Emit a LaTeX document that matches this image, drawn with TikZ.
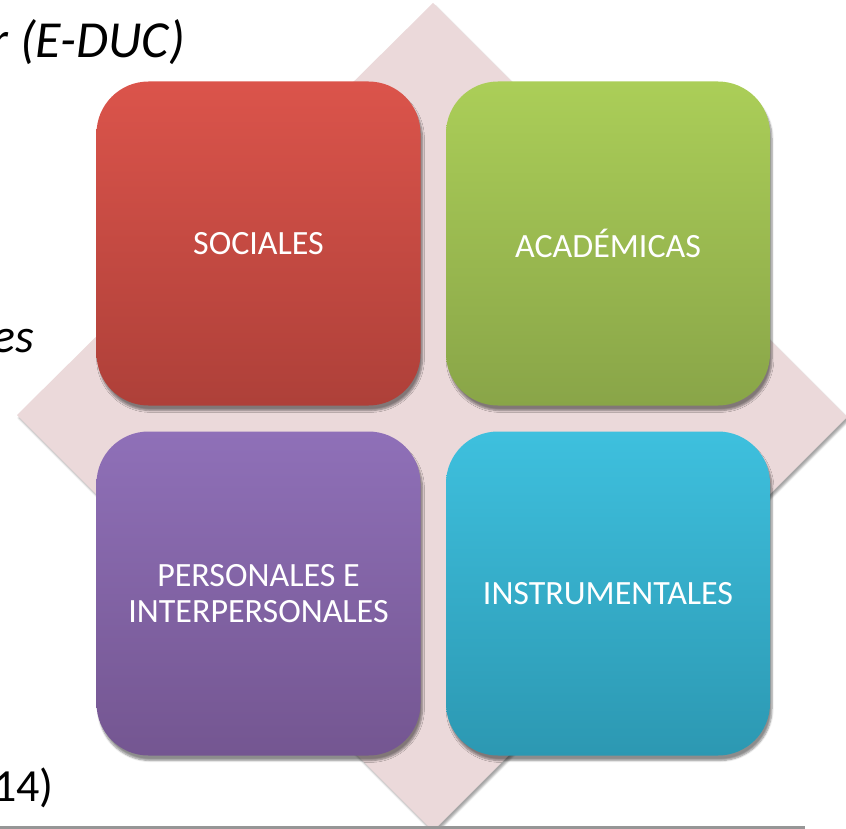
\documentclass[tikz,border=0pt]{standalone}
\usepackage{fontspec}
\setmainfont{Carlito}
\usetikzlibrary{shadows,shadows.blur}
\definecolor{diam}{RGB}{235,217,218}
\definecolor{redT}{RGB}{219,84,75}
\definecolor{redB}{RGB}{174,64,57}
\definecolor{grnT}{RGB}{171,206,88}
\definecolor{grnB}{RGB}{137,165,72}
\definecolor{purT}{RGB}{143,112,184}
\definecolor{purB}{RGB}{116,86,145}
\definecolor{cyaT}{RGB}{62,192,222}
\definecolor{cyaB}{RGB}{44,152,178}
\definecolor{rule}{RGB}{150,150,150}
\tikzset{
  tile/.style={rectangle, rounded corners=52pt, minimum width=324pt, minimum height=324pt,
    inner sep=0pt, align=center, text=white, font=\fontsize{34}{36}\selectfont,
    blur shadow={shadow xshift=2pt, shadow yshift=-5pt, shadow blur steps=6, shadow opacity=45}},
  side/.style={inner sep=0pt, text=black}
}
\begin{document}
\begin{tikzpicture}[x=1pt,y=-1pt]
\useasboundingbox (0,0) rectangle (846,829);
% diamond
\fill[diam, blur shadow={shadow xshift=2pt, shadow yshift=-3pt, shadow blur steps=4, shadow opacity=35}]
  (433,3) -- (847,417) -- (433,831) -- (17,415) -- cycle;
% tiles
\node[tile, top color=redT, bottom color=redB] (soc) at (258.5,243.5) {SOCIALES};
\node[tile, top color=grnT, bottom color=grnB] (aca) at (608,243.5) {ACADÉMICAS};
\node[tile, top color=purT, bottom color=purB] (per) at (258.5,593.5) {PERSONALES E\\INTERPERSONALES};
\node[tile, top color=cyaT, bottom color=cyaB] (ins) at (608,593.5) {INSTRUMENTALES};
% partial side texts
\node[side, anchor=base east, font=\fontsize{52}{60}\selectfont\itshape] (t1) at (185,58) {r (E-DUC)};
\node[side, anchor=base east, font=\fontsize{48}{56}\selectfont\itshape] (t2) at (34,352) {es};
\node[side, anchor=base east, font=\fontsize{46}{54}\selectfont] (t3) at (54,801) {14)};
% bottom rule
\draw[rule, line width=3pt] (0,827.5) -- (805,827.5);
\end{tikzpicture}
\end{document}
